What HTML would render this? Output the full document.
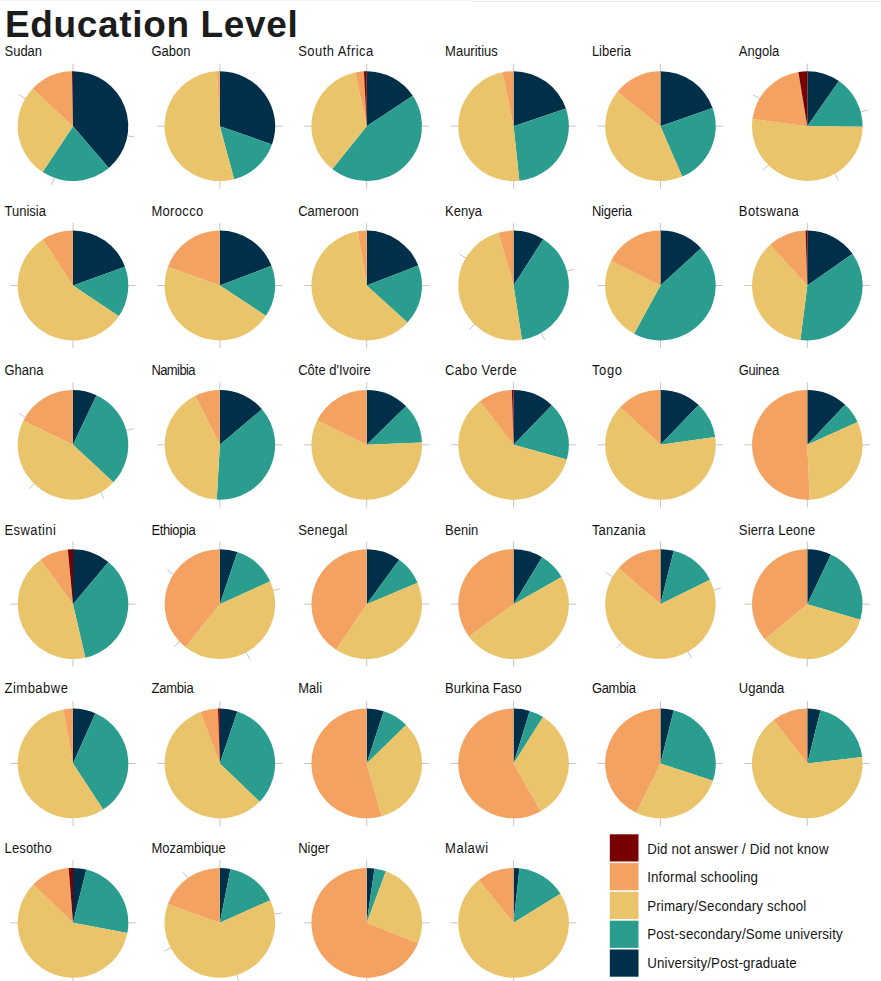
<!DOCTYPE html>
<html><head><meta charset="utf-8"><title>Education Level</title>
<style>
html,body{margin:0;padding:0;background:#fff;}
body{width:881px;height:981px;overflow:hidden;}
svg{display:block;}
text{font-family:"Liberation Sans",sans-serif;}
.t{font-size:37px;font-weight:bold;fill:#1c1c1c;letter-spacing:0.65px;}
.s{font-size:13px;fill:#151515;}
.l{font-size:13.33px;fill:#151515;letter-spacing:0.16px;}
.k{stroke:#c6c6c6;stroke-width:1;fill:none;}
</style></head><body>
<svg width="881" height="981" viewBox="0 0 881 981">
<rect width="881" height="981" fill="#fff"/>
<rect x="0" y="0" width="472" height="1" fill="#f4f4f8"/>
<rect x="472" y="1" width="409" height="1" fill="#e6e6ea"/>
<text class="t" x="5" y="37">Education Level</text>

<g><text class="s" transform="translate(4.5 56.30) scale(1 1.08)">Sudan</text>
<path class="k" d="M73.00 72.15L73.00 63.55M126.18 135.53L134.65 137.02M54.53 176.89L51.59 184.97M26.23 99.15L18.79 94.85"/>
<path fill="#003049" d="M73.00 126.15L73.00 71.25A55.3 54.9 0 0 1 108.84 167.96Z"/>
<path fill="#2A9D8F" d="M73.00 126.15L108.84 167.96A55.3 54.9 0 0 1 42.64 172.04Z"/>
<path fill="#E9C46A" d="M73.00 126.15L42.64 172.04A55.3 54.9 0 0 1 32.56 88.71Z"/>
<path fill="#F4A261" d="M73.00 126.15L32.56 88.71A55.3 54.9 0 0 1 72.03 71.26Z"/>
<path fill="#780000" d="M73.00 126.15L72.03 71.26A55.3 54.9 0 0 1 73.00 71.25Z"/>
</g>
<g><text class="s" transform="translate(151.4 56.30) scale(1 1.08)">Gabon</text>
<path class="k" d="M219.86 72.15L219.86 63.55M273.86 126.15L282.46 126.15M219.86 180.15L219.86 188.75M165.86 126.15L157.26 126.15"/>
<path fill="#003049" d="M219.86 126.15L219.86 71.25A55.3 54.9 0 0 1 271.99 144.48Z"/>
<path fill="#2A9D8F" d="M219.86 126.15L271.99 144.48A55.3 54.9 0 0 1 234.17 179.18Z"/>
<path fill="#E9C46A" d="M219.86 126.15L234.17 179.18A55.3 54.9 0 1 1 216.97 71.33Z"/>
<path fill="#F4A261" d="M219.86 126.15L216.97 71.33A55.3 54.9 0 0 1 219.86 71.25Z"/>
</g>
<g><text class="s" style="letter-spacing:0.45px" transform="translate(298.2 56.30) scale(1 1.08)">South Africa</text>
<path class="k" d="M366.72 72.15L366.72 63.55M420.72 126.15L429.32 126.15M366.72 180.15L366.72 188.75M312.72 126.15L304.12 126.15"/>
<path fill="#003049" d="M366.72 126.15L366.72 71.25A55.3 54.9 0 0 1 412.83 95.85Z"/>
<path fill="#2A9D8F" d="M366.72 126.15L412.83 95.85A55.3 54.9 0 0 1 332.29 169.12Z"/>
<path fill="#E9C46A" d="M366.72 126.15L332.29 169.12A55.3 54.9 0 0 1 355.32 72.43Z"/>
<path fill="#F4A261" d="M366.72 126.15L355.32 72.43A55.3 54.9 0 0 1 363.92 71.32Z"/>
<path fill="#780000" d="M366.72 126.15L363.92 71.32A55.3 54.9 0 0 1 366.72 71.25Z"/>
</g>
<g><text class="s" transform="translate(445.1 56.30) scale(1 1.08)">Mauritius</text>
<path class="k" d="M513.58 72.15L513.58 63.55M567.58 126.15L576.18 126.15M513.58 180.15L513.58 188.75M459.58 126.15L450.98 126.15"/>
<path fill="#003049" d="M513.58 126.15L513.58 71.25A55.3 54.9 0 0 1 565.93 108.46Z"/>
<path fill="#2A9D8F" d="M513.58 126.15L565.93 108.46A55.3 54.9 0 0 1 519.36 180.75Z"/>
<path fill="#E9C46A" d="M513.58 126.15L519.36 180.75A55.3 54.9 0 0 1 502.46 72.37Z"/>
<path fill="#F4A261" d="M513.58 126.15L502.46 72.37A55.3 54.9 0 0 1 513.58 71.25Z"/>
</g>
<g><text class="s" transform="translate(591.9 56.30) scale(1 1.08)">Liberia</text>
<path class="k" d="M660.44 72.15L660.44 63.55M714.44 126.15L723.04 126.15M660.44 180.15L660.44 188.75M606.44 126.15L597.84 126.15"/>
<path fill="#003049" d="M660.44 126.15L660.44 71.25A55.3 54.9 0 0 1 712.63 108.00Z"/>
<path fill="#2A9D8F" d="M660.44 126.15L712.63 108.00A55.3 54.9 0 0 1 682.22 176.61Z"/>
<path fill="#E9C46A" d="M660.44 126.15L682.22 176.61A55.3 54.9 0 0 1 617.34 91.75Z"/>
<path fill="#F4A261" d="M660.44 126.15L617.34 91.75A55.3 54.9 0 0 1 660.44 71.25Z"/>
</g>
<g><text class="s" transform="translate(738.8 56.30) scale(1 1.08)">Angola</text>
<path class="k" d="M807.30 72.15L807.30 63.55M859.46 112.17L867.77 109.95M834.30 172.92L838.60 180.36M769.12 164.33L763.04 170.41M760.53 99.15L753.09 94.85"/>
<path fill="#003049" d="M807.30 126.15L807.30 71.25A55.3 54.9 0 0 1 838.94 81.12Z"/>
<path fill="#2A9D8F" d="M807.30 126.15L838.94 81.12A55.3 54.9 0 0 1 862.60 126.63Z"/>
<path fill="#E9C46A" d="M807.30 126.15L862.60 126.63A55.3 54.9 0 1 1 752.47 118.98Z"/>
<path fill="#F4A261" d="M807.30 126.15L752.47 118.98A55.3 54.9 0 0 1 798.36 71.97Z"/>
<path fill="#780000" d="M807.30 126.15L798.36 71.97A55.3 54.9 0 0 1 807.30 71.25Z"/>
</g>
<g><text class="s" transform="translate(4.5 215.98) scale(1 1.08)">Tunisia</text>
<path class="k" d="M73.00 231.48L73.00 222.88M127.00 285.48L135.60 285.48M73.00 339.48L73.00 348.08M19.00 285.48L10.40 285.48"/>
<path fill="#003049" d="M73.00 285.48L73.00 230.58A55.3 54.9 0 0 1 125.00 266.79Z"/>
<path fill="#2A9D8F" d="M73.00 285.48L125.00 266.79A55.3 54.9 0 0 1 118.85 316.18Z"/>
<path fill="#E9C46A" d="M73.00 285.48L118.85 316.18A55.3 54.9 0 1 1 42.80 239.49Z"/>
<path fill="#F4A261" d="M73.00 285.48L42.80 239.49A55.3 54.9 0 0 1 73.00 230.58Z"/>
</g>
<g><text class="s" style="letter-spacing:0.33px" transform="translate(151.4 215.98) scale(1 1.08)">Morocco</text>
<path class="k" d="M219.86 231.48L219.86 222.88M273.86 285.48L282.46 285.48M219.86 339.48L219.86 348.08M165.86 285.48L157.26 285.48"/>
<path fill="#003049" d="M219.86 285.48L219.86 230.58A55.3 54.9 0 0 1 271.49 265.81Z"/>
<path fill="#2A9D8F" d="M219.86 285.48L271.49 265.81A55.3 54.9 0 0 1 265.92 315.86Z"/>
<path fill="#E9C46A" d="M219.86 285.48L265.92 315.86A55.3 54.9 0 0 1 167.89 266.70Z"/>
<path fill="#F4A261" d="M219.86 285.48L167.89 266.70A55.3 54.9 0 0 1 219.86 230.58Z"/>
</g>
<g><text class="s" transform="translate(298.2 215.98) scale(1 1.08)">Cameroon</text>
<path class="k" d="M366.72 231.48L366.72 222.88M420.72 285.48L429.32 285.48M366.72 339.48L366.72 348.08M312.72 285.48L304.12 285.48"/>
<path fill="#003049" d="M366.72 285.48L366.72 230.58A55.3 54.9 0 0 1 418.24 265.54Z"/>
<path fill="#2A9D8F" d="M366.72 285.48L418.24 265.54A55.3 54.9 0 0 1 407.49 322.57Z"/>
<path fill="#E9C46A" d="M366.72 285.48L407.49 322.57A55.3 54.9 0 1 1 357.78 231.30Z"/>
<path fill="#F4A261" d="M366.72 285.48L357.78 231.30A55.3 54.9 0 0 1 366.72 230.58Z"/>
</g>
<g><text class="s" transform="translate(445.1 215.98) scale(1 1.08)">Kenya</text>
<path class="k" d="M513.58 231.48L513.58 222.88M565.74 271.50L574.05 269.28M540.58 332.25L544.88 339.69M475.40 323.66L469.32 329.74M466.81 258.48L459.37 254.18"/>
<path fill="#003049" d="M513.58 285.48L513.58 230.58A55.3 54.9 0 0 1 543.29 239.18Z"/>
<path fill="#2A9D8F" d="M513.58 285.48L543.29 239.18A55.3 54.9 0 0 1 521.94 339.75Z"/>
<path fill="#E9C46A" d="M513.58 285.48L521.94 339.75A55.3 54.9 0 0 1 498.43 232.68Z"/>
<path fill="#F4A261" d="M513.58 285.48L498.43 232.68A55.3 54.9 0 0 1 513.58 230.58Z"/>
</g>
<g><text class="s" style="letter-spacing:-0.17px" transform="translate(591.9 215.98) scale(1 1.08)">Nigeria</text>
<path class="k" d="M660.44 231.48L660.44 222.88M714.44 285.48L723.04 285.48M660.44 339.48L660.44 348.08M606.44 285.48L597.84 285.48"/>
<path fill="#003049" d="M660.44 285.48L660.44 230.58A55.3 54.9 0 0 1 701.08 248.25Z"/>
<path fill="#2A9D8F" d="M660.44 285.48L701.08 248.25A55.3 54.9 0 0 1 634.05 333.73Z"/>
<path fill="#E9C46A" d="M660.44 285.48L634.05 333.73A55.3 54.9 0 0 1 611.12 260.64Z"/>
<path fill="#F4A261" d="M660.44 285.48L611.12 260.64A55.3 54.9 0 0 1 660.44 230.58Z"/>
</g>
<g><text class="s" style="letter-spacing:0.43px" transform="translate(738.8 215.98) scale(1 1.08)">Botswana</text>
<path class="k" d="M807.30 231.48L807.30 222.88M861.30 285.48L869.90 285.48M807.30 339.48L807.30 348.08M753.30 285.48L744.70 285.48"/>
<path fill="#003049" d="M807.30 285.48L807.30 230.58A55.3 54.9 0 0 1 852.49 253.83Z"/>
<path fill="#2A9D8F" d="M807.30 285.48L852.49 253.83A55.3 54.9 0 0 1 800.46 339.96Z"/>
<path fill="#E9C46A" d="M807.30 285.48L800.46 339.96A55.3 54.9 0 0 1 770.15 244.81Z"/>
<path fill="#F4A261" d="M807.30 285.48L770.15 244.81A55.3 54.9 0 0 1 805.56 230.61Z"/>
<path fill="#780000" d="M807.30 285.48L805.56 230.61A55.3 54.9 0 0 1 807.30 230.58Z"/>
</g>
<g><text class="s" transform="translate(4.5 374.96) scale(1 1.08)">Ghana</text>
<path class="k" d="M73.00 390.81L73.00 382.21M125.16 430.83L133.47 428.61M100.00 491.58L104.30 499.02M34.82 482.99L28.74 489.07M26.23 417.81L18.79 413.51"/>
<path fill="#003049" d="M73.00 444.81L73.00 389.91A55.3 54.9 0 0 1 96.55 395.13Z"/>
<path fill="#2A9D8F" d="M73.00 444.81L96.55 395.13A55.3 54.9 0 0 1 113.38 482.32Z"/>
<path fill="#E9C46A" d="M73.00 444.81L113.38 482.32A55.3 54.9 0 0 1 23.34 420.66Z"/>
<path fill="#F4A261" d="M73.00 444.81L23.34 420.66A55.3 54.9 0 0 1 73.00 389.91Z"/>
</g>
<g><text class="s" style="letter-spacing:-0.58px" transform="translate(151.4 374.96) scale(1 1.08)">Namibia</text>
<path class="k" d="M219.86 390.81L219.86 382.21M273.86 444.81L282.46 444.81M219.86 498.81L219.86 507.41M165.86 444.81L157.26 444.81"/>
<path fill="#003049" d="M219.86 444.81L219.86 389.91A55.3 54.9 0 0 1 261.97 409.23Z"/>
<path fill="#2A9D8F" d="M219.86 444.81L261.97 409.23A55.3 54.9 0 0 1 216.77 499.62Z"/>
<path fill="#E9C46A" d="M219.86 444.81L216.77 499.62A55.3 54.9 0 0 1 195.27 395.64Z"/>
<path fill="#F4A261" d="M219.86 444.81L195.27 395.64A55.3 54.9 0 0 1 219.86 389.91Z"/>
</g>
<g><text class="s" transform="translate(298.2 374.96) scale(1 1.08)">Côte d'Ivoire</text>
<path class="k" d="M366.72 390.81L366.72 382.21M420.72 444.81L429.32 444.81M366.72 498.81L366.72 507.41M312.72 444.81L304.12 444.81"/>
<path fill="#003049" d="M366.72 444.81L366.72 389.91A55.3 54.9 0 0 1 406.10 406.26Z"/>
<path fill="#2A9D8F" d="M366.72 444.81L406.10 406.26A55.3 54.9 0 0 1 421.98 442.61Z"/>
<path fill="#E9C46A" d="M366.72 444.81L421.98 442.61A55.3 54.9 0 1 1 317.19 420.40Z"/>
<path fill="#F4A261" d="M366.72 444.81L317.19 420.40A55.3 54.9 0 0 1 366.72 389.91Z"/>
</g>
<g><text class="s" style="letter-spacing:0.33px" transform="translate(445.1 374.96) scale(1 1.08)">Cabo Verde</text>
<path class="k" d="M513.58 390.81L513.58 382.21M567.58 444.81L576.18 444.81M513.58 498.81L513.58 507.41M459.58 444.81L450.98 444.81"/>
<path fill="#003049" d="M513.58 444.81L513.58 389.91A55.3 54.9 0 0 1 551.93 405.25Z"/>
<path fill="#2A9D8F" d="M513.58 444.81L551.93 405.25A55.3 54.9 0 0 1 566.84 459.57Z"/>
<path fill="#E9C46A" d="M513.58 444.81L566.84 459.57A55.3 54.9 0 1 1 479.92 401.25Z"/>
<path fill="#F4A261" d="M513.58 444.81L479.92 401.25A55.3 54.9 0 0 1 511.84 389.94Z"/>
<path fill="#780000" d="M513.58 444.81L511.84 389.94A55.3 54.9 0 0 1 513.58 389.91Z"/>
</g>
<g><text class="s" style="letter-spacing:0.67px" transform="translate(591.9 374.96) scale(1 1.08)">Togo</text>
<path class="k" d="M660.44 390.81L660.44 382.21M714.44 444.81L723.04 444.81M660.44 498.81L660.44 507.41M606.44 444.81L597.84 444.81"/>
<path fill="#003049" d="M660.44 444.81L660.44 389.91A55.3 54.9 0 0 1 698.65 405.12Z"/>
<path fill="#2A9D8F" d="M660.44 444.81L698.65 405.12A55.3 54.9 0 0 1 715.17 436.98Z"/>
<path fill="#E9C46A" d="M660.44 444.81L715.17 436.98A55.3 54.9 0 1 1 620.26 407.09Z"/>
<path fill="#F4A261" d="M660.44 444.81L620.26 407.09A55.3 54.9 0 0 1 660.44 389.91Z"/>
</g>
<g><text class="s" style="letter-spacing:-0.30px" transform="translate(738.8 374.96) scale(1 1.08)">Guinea</text>
<path class="k" d="M807.30 390.81L807.30 382.21M861.30 444.81L869.90 444.81M807.30 498.81L807.30 507.41M753.30 444.81L744.70 444.81"/>
<path fill="#003049" d="M807.30 444.81L807.30 389.91A55.3 54.9 0 0 1 845.16 404.79Z"/>
<path fill="#2A9D8F" d="M807.30 444.81L845.16 404.79A55.3 54.9 0 0 1 857.62 422.04Z"/>
<path fill="#E9C46A" d="M807.30 444.81L857.62 422.04A55.3 54.9 0 0 1 809.71 499.66Z"/>
<path fill="#F4A261" d="M807.30 444.81L809.71 499.66A55.3 54.9 0 1 1 807.30 389.91Z"/>
</g>
<g><text class="s" style="letter-spacing:0.43px" transform="translate(4.5 535.14) scale(1 1.08)">Eswatini</text>
<path class="k" d="M73.00 550.14L73.00 541.54M127.00 604.14L135.60 604.14M73.00 658.14L73.00 666.74M19.00 604.14L10.40 604.14"/>
<path fill="#003049" d="M73.00 604.14L73.00 549.24A55.3 54.9 0 0 1 108.40 561.96Z"/>
<path fill="#2A9D8F" d="M73.00 604.14L108.40 561.96A55.3 54.9 0 0 1 85.35 657.65Z"/>
<path fill="#E9C46A" d="M73.00 604.14L85.35 657.65A55.3 54.9 0 0 1 40.57 559.67Z"/>
<path fill="#F4A261" d="M73.00 604.14L40.57 559.67A55.3 54.9 0 0 1 67.80 549.48Z"/>
<path fill="#780000" d="M73.00 604.14L67.80 549.48A55.3 54.9 0 0 1 73.00 549.24Z"/>
</g>
<g><text class="s" style="letter-spacing:-0.36px" transform="translate(151.4 535.14) scale(1 1.08)">Ethiopia</text>
<path class="k" d="M219.86 550.14L219.86 541.54M272.19 590.80L280.52 588.68M245.71 651.55L249.83 659.10M180.30 640.90L174.00 646.75M174.47 574.89L167.24 570.23"/>
<path fill="#003049" d="M219.86 604.14L219.86 549.24A55.3 54.9 0 0 1 237.41 552.08Z"/>
<path fill="#2A9D8F" d="M219.86 604.14L237.41 552.08A55.3 54.9 0 0 1 270.18 581.37Z"/>
<path fill="#E9C46A" d="M219.86 604.14L270.18 581.37A55.3 54.9 0 0 1 185.28 646.99Z"/>
<path fill="#F4A261" d="M219.86 604.14L185.28 646.99A55.3 54.9 0 0 1 219.86 549.24Z"/>
</g>
<g><text class="s" style="letter-spacing:0.25px" transform="translate(298.2 535.14) scale(1 1.08)">Senegal</text>
<path class="k" d="M366.72 550.14L366.72 541.54M420.72 604.14L429.32 604.14M366.72 658.14L366.72 666.74M312.72 604.14L304.12 604.14"/>
<path fill="#003049" d="M366.72 604.14L366.72 549.24A55.3 54.9 0 0 1 399.22 559.72Z"/>
<path fill="#2A9D8F" d="M366.72 604.14L399.22 559.72A55.3 54.9 0 0 1 417.62 582.69Z"/>
<path fill="#E9C46A" d="M366.72 604.14L417.62 582.69A55.3 54.9 0 0 1 336.04 649.81Z"/>
<path fill="#F4A261" d="M366.72 604.14L336.04 649.81A55.3 54.9 0 0 1 366.72 549.24Z"/>
</g>
<g><text class="s" transform="translate(445.1 535.14) scale(1 1.08)">Benin</text>
<path class="k" d="M513.58 550.14L513.58 541.54M567.58 604.14L576.18 604.14M513.58 658.14L513.58 666.74M459.58 604.14L450.98 604.14"/>
<path fill="#003049" d="M513.58 604.14L513.58 549.24A55.3 54.9 0 0 1 542.14 557.13Z"/>
<path fill="#2A9D8F" d="M513.58 604.14L542.14 557.13A55.3 54.9 0 0 1 561.62 576.94Z"/>
<path fill="#E9C46A" d="M513.58 604.14L561.62 576.94A55.3 54.9 0 0 1 468.90 636.49Z"/>
<path fill="#F4A261" d="M513.58 604.14L468.90 636.49A55.3 54.9 0 0 1 513.58 549.24Z"/>
</g>
<g><text class="s" style="letter-spacing:0.21px" transform="translate(591.9 535.14) scale(1 1.08)">Tanzania</text>
<path class="k" d="M660.44 550.14L660.44 541.54M712.60 590.16L720.91 587.94M687.44 650.91L691.74 658.35M622.26 642.32L616.18 648.40M613.67 577.14L606.23 572.84"/>
<path fill="#003049" d="M660.44 604.14L660.44 549.24A55.3 54.9 0 0 1 673.72 550.85Z"/>
<path fill="#2A9D8F" d="M660.44 604.14L673.72 550.85A55.3 54.9 0 0 1 709.93 579.64Z"/>
<path fill="#E9C46A" d="M660.44 604.14L709.93 579.64A55.3 54.9 0 1 1 618.58 568.27Z"/>
<path fill="#F4A261" d="M660.44 604.14L618.58 568.27A55.3 54.9 0 0 1 660.44 549.24Z"/>
</g>
<g><text class="s" style="letter-spacing:0.18px" transform="translate(738.8 535.14) scale(1 1.08)">Sierra Leone</text>
<path class="k" d="M807.30 550.14L807.30 541.54M861.30 604.14L869.90 604.14M807.30 658.14L807.30 666.74M753.30 604.14L744.70 604.14"/>
<path fill="#003049" d="M807.30 604.14L807.30 549.24A55.3 54.9 0 0 1 830.93 554.51Z"/>
<path fill="#2A9D8F" d="M807.30 604.14L830.93 554.51A55.3 54.9 0 0 1 860.32 619.73Z"/>
<path fill="#E9C46A" d="M807.30 604.14L860.32 619.73A55.3 54.9 0 0 1 764.88 639.36Z"/>
<path fill="#F4A261" d="M807.30 604.14L764.88 639.36A55.3 54.9 0 0 1 807.30 549.24Z"/>
</g>
<g><text class="s" style="letter-spacing:0.50px" transform="translate(4.5 693.07) scale(1 1.08)">Zimbabwe</text>
<path class="k" d="M73.00 709.47L73.00 700.87M127.00 763.47L135.60 763.47M73.00 817.47L73.00 826.07M19.00 763.47L10.40 763.47"/>
<path fill="#003049" d="M73.00 763.47L73.00 708.57A55.3 54.9 0 0 1 95.40 713.28Z"/>
<path fill="#2A9D8F" d="M73.00 763.47L95.40 713.28A55.3 54.9 0 0 1 103.20 809.46Z"/>
<path fill="#E9C46A" d="M73.00 763.47L103.20 809.46A55.3 54.9 0 1 1 63.30 709.42Z"/>
<path fill="#F4A261" d="M73.00 763.47L63.30 709.42A55.3 54.9 0 0 1 73.00 708.57Z"/>
</g>
<g><text class="s" style="letter-spacing:-0.20px" transform="translate(151.4 693.07) scale(1 1.08)">Zambia</text>
<path class="k" d="M219.86 709.47L219.86 700.87M273.86 763.47L282.46 763.47M219.86 817.47L219.86 826.07M165.86 763.47L157.26 763.47"/>
<path fill="#003049" d="M219.86 763.47L219.86 708.57A55.3 54.9 0 0 1 237.41 711.41Z"/>
<path fill="#2A9D8F" d="M219.86 763.47L237.41 711.41A55.3 54.9 0 0 1 259.57 801.68Z"/>
<path fill="#E9C46A" d="M219.86 763.47L259.57 801.68A55.3 54.9 0 1 1 200.40 712.08Z"/>
<path fill="#F4A261" d="M219.86 763.47L200.40 712.08A55.3 54.9 0 0 1 217.93 708.60Z"/>
<path fill="#780000" d="M219.86 763.47L217.93 708.60A55.3 54.9 0 0 1 219.86 708.57Z"/>
</g>
<g><text class="s" transform="translate(298.2 693.07) scale(1 1.08)">Mali</text>
<path class="k" d="M366.72 709.47L366.72 700.87M420.72 763.47L429.32 763.47M366.72 817.47L366.72 826.07M312.72 763.47L304.12 763.47"/>
<path fill="#003049" d="M366.72 763.47L366.72 708.57A55.3 54.9 0 0 1 383.72 711.23Z"/>
<path fill="#2A9D8F" d="M366.72 763.47L383.72 711.23A55.3 54.9 0 0 1 406.16 724.99Z"/>
<path fill="#E9C46A" d="M366.72 763.47L406.16 724.99A55.3 54.9 0 0 1 381.59 816.35Z"/>
<path fill="#F4A261" d="M366.72 763.47L381.59 816.35A55.3 54.9 0 1 1 366.72 708.57Z"/>
</g>
<g><text class="s" transform="translate(445.1 693.07) scale(1 1.08)">Burkina Faso</text>
<path class="k" d="M513.58 709.47L513.58 700.87M567.58 763.47L576.18 763.47M513.58 817.47L513.58 826.07M459.58 763.47L450.98 763.47"/>
<path fill="#003049" d="M513.58 763.47L513.58 708.57A55.3 54.9 0 0 1 529.75 710.97Z"/>
<path fill="#2A9D8F" d="M513.58 763.47L529.75 710.97A55.3 54.9 0 0 1 543.05 717.01Z"/>
<path fill="#E9C46A" d="M513.58 763.47L543.05 717.01A55.3 54.9 0 0 1 540.73 811.30Z"/>
<path fill="#F4A261" d="M513.58 763.47L540.73 811.30A55.3 54.9 0 1 1 513.58 708.57Z"/>
</g>
<g><text class="s" style="letter-spacing:-0.30px" transform="translate(591.9 693.07) scale(1 1.08)">Gambia</text>
<path class="k" d="M660.44 709.47L660.44 700.87M714.44 763.47L723.04 763.47M660.44 817.47L660.44 826.07M606.44 763.47L597.84 763.47"/>
<path fill="#003049" d="M660.44 763.47L660.44 708.57A55.3 54.9 0 0 1 673.72 710.18Z"/>
<path fill="#2A9D8F" d="M660.44 763.47L673.72 710.18A55.3 54.9 0 0 1 712.91 780.80Z"/>
<path fill="#E9C46A" d="M660.44 763.47L712.91 780.80A55.3 54.9 0 0 1 636.11 812.77Z"/>
<path fill="#F4A261" d="M660.44 763.47L636.11 812.77A55.3 54.9 0 0 1 660.44 708.57Z"/>
</g>
<g><text class="s" transform="translate(738.8 693.07) scale(1 1.08)">Uganda</text>
<path class="k" d="M807.30 709.47L807.30 700.87M861.30 763.47L869.90 763.47M807.30 817.47L807.30 826.07M753.30 763.47L744.70 763.47"/>
<path fill="#003049" d="M807.30 763.47L807.30 708.57A55.3 54.9 0 0 1 820.58 710.18Z"/>
<path fill="#2A9D8F" d="M807.30 763.47L820.58 710.18A55.3 54.9 0 0 1 862.21 756.97Z"/>
<path fill="#E9C46A" d="M807.30 763.47L862.21 756.97A55.3 54.9 0 1 1 773.56 719.97Z"/>
<path fill="#F4A261" d="M807.30 763.47L773.56 719.97A55.3 54.9 0 0 1 807.30 708.57Z"/>
</g>
<g><text class="s" style="letter-spacing:0.17px" transform="translate(4.5 853.15) scale(1 1.08)">Lesotho</text>
<path class="k" d="M73.00 868.80L73.00 860.20M127.00 922.80L135.60 922.80M73.00 976.80L73.00 985.40M19.00 922.80L10.40 922.80"/>
<path fill="#003049" d="M73.00 922.80L73.00 867.90A55.3 54.9 0 0 1 86.38 869.53Z"/>
<path fill="#2A9D8F" d="M73.00 922.80L86.38 869.53A55.3 54.9 0 0 1 127.34 932.99Z"/>
<path fill="#E9C46A" d="M73.00 922.80L127.34 932.99A55.3 54.9 0 1 1 33.35 884.53Z"/>
<path fill="#F4A261" d="M73.00 922.80L33.35 884.53A55.3 54.9 0 0 1 68.66 868.07Z"/>
<path fill="#780000" d="M73.00 922.80L68.66 868.07A55.3 54.9 0 0 1 73.00 867.90Z"/>
</g>
<g><text class="s" transform="translate(151.4 853.15) scale(1 1.08)">Mozambique</text>
<path class="k" d="M219.86 868.80L219.86 860.20M273.20 914.35L281.69 913.01M236.55 974.16L239.20 982.34M171.75 947.32L164.08 951.22M188.12 879.11L183.06 872.16"/>
<path fill="#003049" d="M219.86 922.80L219.86 867.90A55.3 54.9 0 0 1 230.51 868.93Z"/>
<path fill="#2A9D8F" d="M219.86 922.80L230.51 868.93A55.3 54.9 0 0 1 270.26 900.21Z"/>
<path fill="#E9C46A" d="M219.86 922.80L270.26 900.21A55.3 54.9 0 1 1 167.93 903.93Z"/>
<path fill="#F4A261" d="M219.86 922.80L167.93 903.93A55.3 54.9 0 0 1 219.86 867.90Z"/>
</g>
<g><text class="s" transform="translate(298.2 853.15) scale(1 1.08)">Niger</text>
<path class="k" d="M366.72 868.80L366.72 860.20M420.72 922.80L429.32 922.80M366.72 976.80L366.72 985.40M312.72 922.80L304.12 922.80"/>
<path fill="#003049" d="M366.72 922.80L366.72 867.90A55.3 54.9 0 0 1 374.51 868.45Z"/>
<path fill="#2A9D8F" d="M366.72 922.80L374.51 868.45A55.3 54.9 0 0 1 385.91 871.31Z"/>
<path fill="#E9C46A" d="M366.72 922.80L385.91 871.31A55.3 54.9 0 0 1 417.99 943.37Z"/>
<path fill="#F4A261" d="M366.72 922.80L417.99 943.37A55.3 54.9 0 1 1 366.72 867.90Z"/>
</g>
<g><text class="s" style="letter-spacing:0.50px" transform="translate(445.1 853.15) scale(1 1.08)">Malawi</text>
<path class="k" d="M513.58 868.80L513.58 860.20M567.58 922.80L576.18 922.80M513.58 976.80L513.58 985.40M459.58 922.80L450.98 922.80"/>
<path fill="#003049" d="M513.58 922.80L513.58 867.90A55.3 54.9 0 0 1 519.46 868.21Z"/>
<path fill="#2A9D8F" d="M513.58 922.80L519.46 868.21A55.3 54.9 0 0 1 560.43 893.63Z"/>
<path fill="#E9C46A" d="M513.58 922.80L560.43 893.63A55.3 54.9 0 1 1 478.93 880.01Z"/>
<path fill="#F4A261" d="M513.58 922.80L478.93 880.01A55.3 54.9 0 0 1 513.58 867.90Z"/>
</g>
<rect x="609.8" y="834.30" width="28.7" height="27.2" fill="#780000"/>
<text class="l" transform="translate(647.2 853.90) scale(1 1.06)">Did not answer / Did not know</text>
<rect x="609.8" y="863.10" width="28.7" height="27.2" fill="#F4A261"/>
<text class="l" transform="translate(647.2 882.00) scale(1 1.06)">Informal schooling</text>
<rect x="609.8" y="891.90" width="28.7" height="27.2" fill="#E9C46A"/>
<text class="l" transform="translate(647.2 910.60) scale(1 1.06)">Primary/Secondary school</text>
<rect x="609.8" y="920.70" width="28.7" height="27.2" fill="#2A9D8F"/>
<text class="l" transform="translate(647.2 939.20) scale(1 1.06)">Post-secondary/Some university</text>
<rect x="609.8" y="949.50" width="28.7" height="27.2" fill="#003049"/>
<text class="l" transform="translate(647.2 967.80) scale(1 1.06)">University/Post-graduate</text>
</svg></body></html>
